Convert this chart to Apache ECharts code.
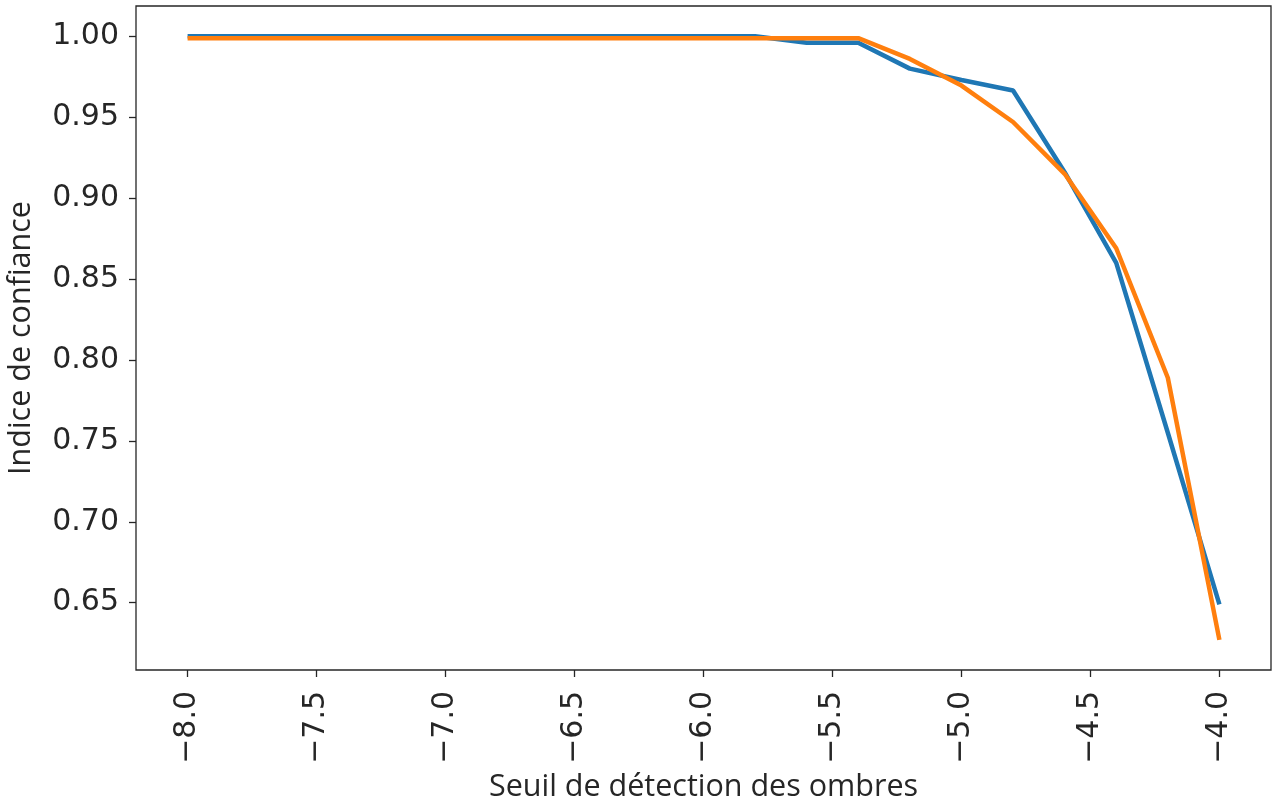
<!DOCTYPE html>
<html>
<head>
<meta charset="utf-8">
<script src="https://cdn.jsdelivr.net/npm/echarts@6/dist/echarts.min.js"></script>
<style>
html,body{margin:0;padding:0;background:#fff;}
#chart{width:1274px;height:799px;}
</style>
</head>
<body>
<div id="chart"></div>
<script>
// Data
var thresholds = [-8.0,-7.8,-7.6,-7.4,-7.2,-7.0,-6.8,-6.6,-6.4,-6.2,-6.0,-5.8,-5.6,-5.4,-5.2,-5.0,-4.8,-4.6,-4.4,-4.2,-4.0];
var blueValues = [1.000,1.000,1.000,1.000,1.000,1.000,1.000,1.000,1.000,1.000,1.000,1.000,0.996,0.996,0.980,0.973,0.9665,0.916,0.860,0.755,0.649];
var orangeValues = [0.9988,0.9988,0.9988,0.9988,0.9988,0.9988,0.9988,0.9988,0.9988,0.9988,0.9988,0.9988,0.9988,0.9988,0.986,0.9695,0.947,0.915,0.869,0.789,0.627];
var xTicks = [-8.0,-7.5,-7.0,-6.5,-6.0,-5.5,-5.0,-4.5,-4.0];
var yTicks = [0.65,0.70,0.75,0.80,0.85,0.90,0.95,1.00];
var xTitle = 'Seuil de détection des ombres';
var yTitle = 'Indice de confiance';

function pairs(xs, ys){ return xs.map(function(x,i){ return [x, ys[i]]; }); }
function fmtX(v){ var s = Math.abs(v).toFixed(1); return (v < 0 ? '\u2212' : '') + s; }

var chart = echarts.init(document.getElementById('chart'), null, {renderer:'canvas'});
chart.setOption({
  animation: false,
  backgroundColor: '#ffffff',
  grid: {left: 136, right: 3, top: 6, bottom: 129, outerBoundsMode: 'none', containLabel: false, show: true, borderColor: '#262626', borderWidth: 1.3, backgroundColor: 'transparent'},
  xAxis: {
    type: 'value', min: -8.2, max: -3.8,
    name: xTitle, nameLocation: 'middle', nameGap: 97,
    nameTextStyle: {fontFamily: 'Open Sans', fontSize: 30.5, color: '#262626'},
    axisLine: {show: false},
    axisTick: {show: true, length: 7, lineStyle: {color: '#262626', width: 1.3}, customValues: xTicks},
    axisLabel: {rotate: 90, margin: 21, fontFamily: 'DejaVu Sans', fontSize: 30, color: '#262626', customValues: xTicks, formatter: fmtX},
    splitLine: {show: false}
  },
  yAxis: {
    type: 'value', min: 0.6084, max: 1.0187,
    name: yTitle, nameLocation: 'middle', nameGap: 99,
    nameTextStyle: {fontFamily: 'Open Sans', fontSize: 30.5, color: '#262626'},
    axisLine: {show: false},
    axisTick: {show: true, length: 7, lineStyle: {color: '#262626', width: 1.3}, customValues: yTicks},
    axisLabel: {margin: 17, fontFamily: 'DejaVu Sans', fontSize: 30, color: '#262626', customValues: yTicks, formatter: function(v){ return v.toFixed(2); }},
    splitLine: {show: false}
  },
  series: [
    {type: 'line', data: pairs(thresholds, blueValues), showSymbol: false, symbol: 'none', lineStyle: {color: '#1f77b4', width: 4.5}, itemStyle: {color: '#1f77b4'}, z: 2},
    {type: 'line', data: pairs(thresholds, orangeValues), showSymbol: false, symbol: 'none', lineStyle: {color: '#ff7f0e', width: 4.5}, itemStyle: {color: '#ff7f0e'}, z: 3}
  ]
});
</script>
</body>
</html>
